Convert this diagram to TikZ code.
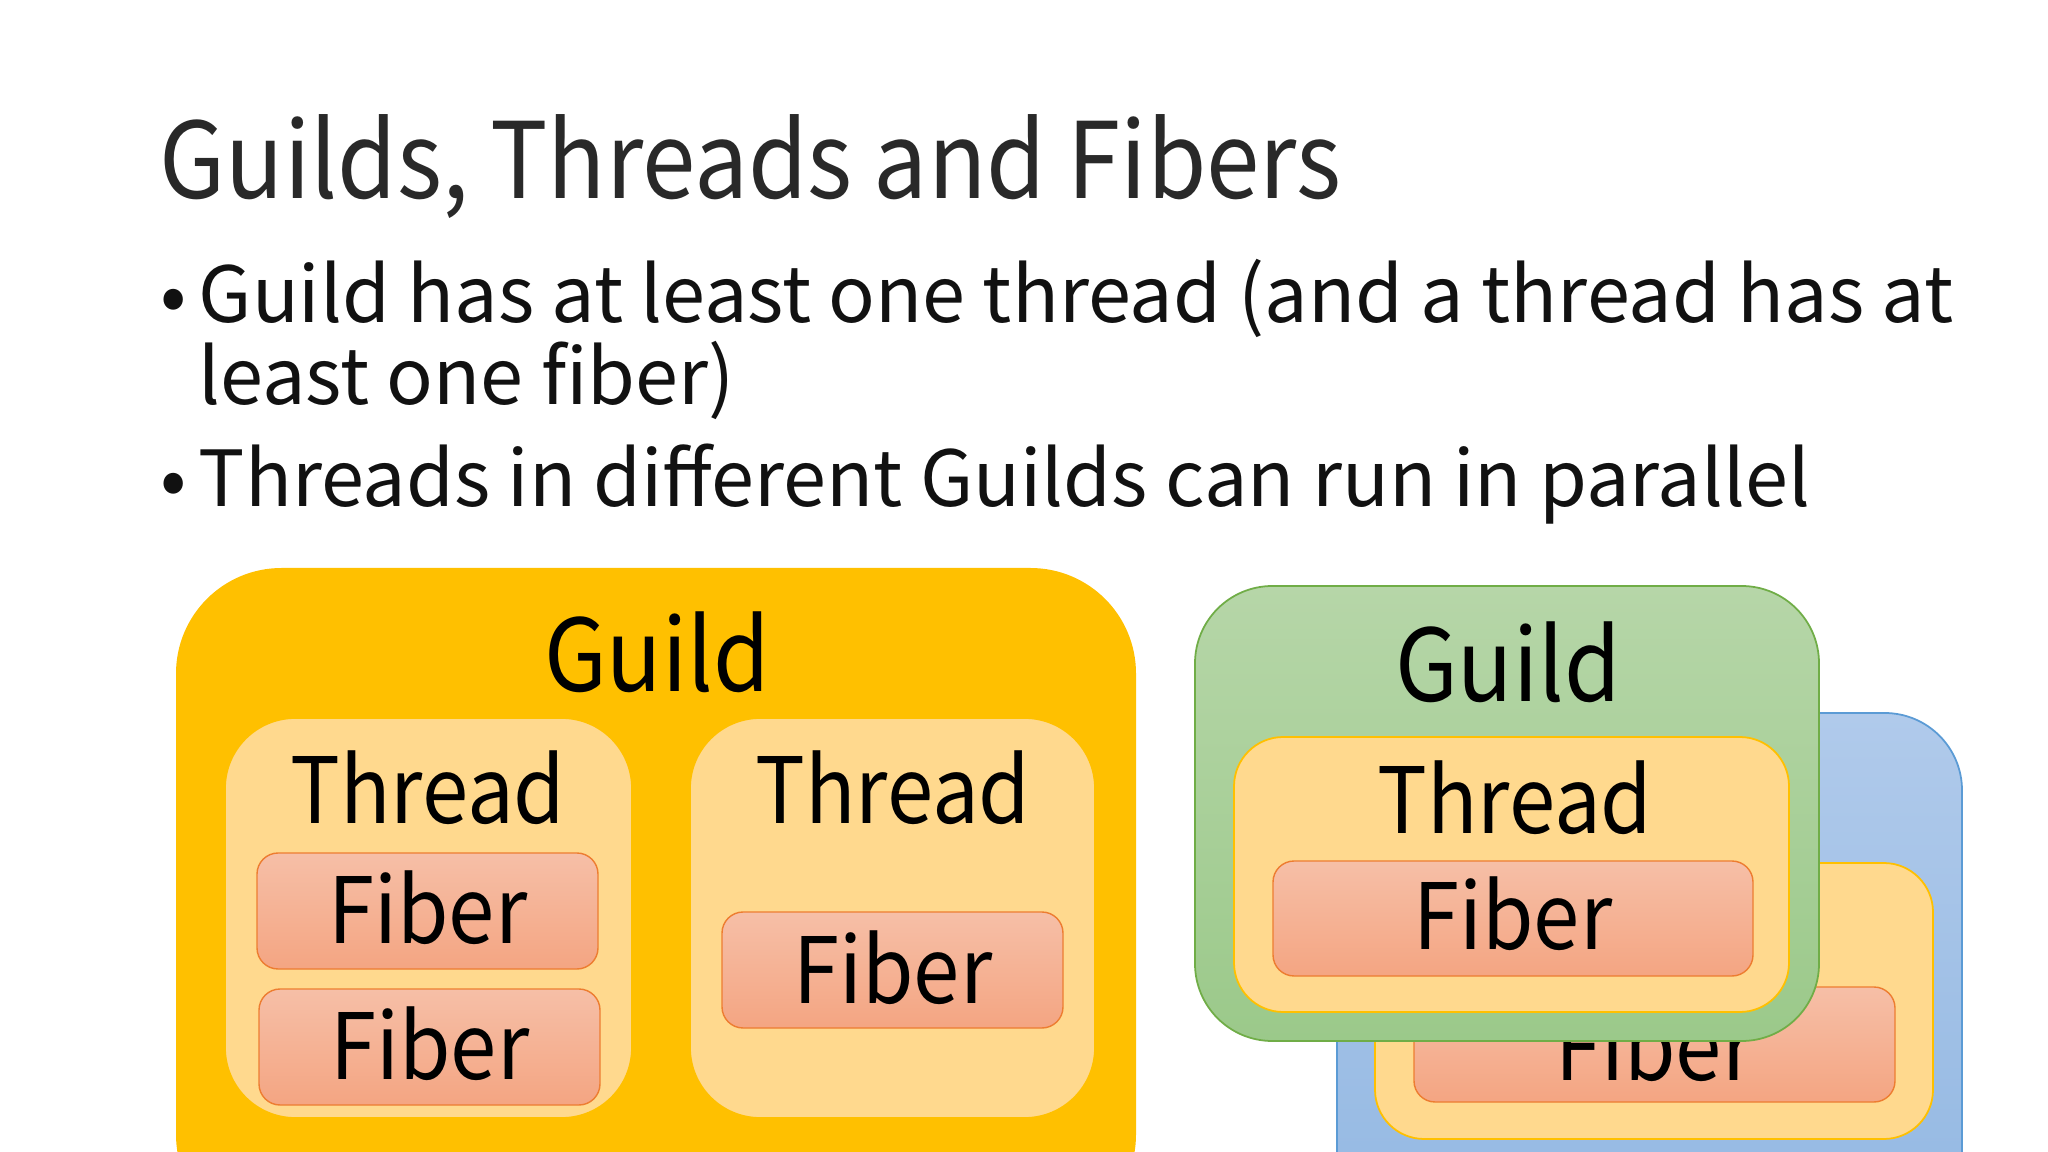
\documentclass[tikz,border=0pt]{standalone}
\usepackage{fontspec}
\newfontfamily\slidefont{Noto Sans CJK JP}
\newfontfamily\narrowfont{Noto Sans CJK JP}[FakeStretch=0.91]
\definecolor{guildorange}{HTML}{FFC000}
\definecolor{threadfill}{HTML}{FFD98E}
\definecolor{threadline}{HTML}{FFC000}
\definecolor{fibertop}{HTML}{F6BFA7}
\definecolor{fiberbottom}{HTML}{F4A582}
\definecolor{fiberline}{HTML}{ED7D31}
\definecolor{greentop}{HTML}{B6D6A8}
\definecolor{greenbottom}{HTML}{9BC98A}
\definecolor{greenline}{HTML}{70AD47}
\definecolor{bluetop}{HTML}{B0CAEB}
\definecolor{bluebottom}{HTML}{93B8E2}
\definecolor{blueline}{HTML}{5B9BD5}
\definecolor{ink}{HTML}{111111}
\tikzset{
  titletext/.style={anchor=base west, inner sep=0pt, text=ink!90, font=\narrowfont\fontsize{30}{36}\selectfont},
  bullettext/.style={anchor=base west, inner sep=0pt, text=ink, font=\slidefont\fontsize{22}{26}\selectfont},
  guildtext/.style={anchor=base, inner sep=0pt, font=\narrowfont\fontsize{28.5}{34}\selectfont},
  boxtext/.style={anchor=base, inner sep=0pt, font=\narrowfont\fontsize{26}{31}\selectfont},
  threadbox/.style={fill=threadfill, draw=threadline, line width=0.5pt},
  fiberbox/.style={top color=fibertop, bottom color=fiberbottom, draw=fiberline, line width=0.4pt, rounded corners=6pt}
}
\begin{document}
\begin{tikzpicture}[x=0.01cm, y=-0.01cm]
    \clip (0,0) rectangle (2048,1152);
    \fill[white] (0,0) rectangle (2048,1152);

    % title and bullets
    \node[titletext] (title) at (159,199) {Guilds, Threads and Fibers};
    \node[bullettext] (dot1) at (160,323) {•};
    \node[bullettext] (line1) at (198,323) {Guild has at least one thread (and a thread has at};
    \node[bullettext] (line1b) at (198,405) {least one fiber)};
    \node[bullettext] (dot2) at (160,507) {•};
    \node[bullettext] (line2) at (198,507) {Threads in different Guilds can run in parallel};

    % first guild
    \fill[guildorange, rounded corners=30pt] (176,568) rectangle (1136,1240);
    \node[guildtext] (guildA) at (657,692) {Guild};
    \draw[threadbox, rounded corners=20pt] (225,718) rectangle (632,1118);
    \node[boxtext] (threadA) at (428,823) {Thread};
    \draw[fiberbox] (257,853) rectangle (598,969);
    \node[boxtext] (fiberA) at (428,943) {Fiber};
    \draw[fiberbox] (259,989) rectangle (600,1105);
    \node[boxtext] (fiberB) at (430,1079) {Fiber};
    \draw[threadbox, rounded corners=20pt] (690,718) rectangle (1095,1118);
    \node[boxtext] (threadB) at (893,823) {Thread};
    \draw[fiberbox] (722,912) rectangle (1063,1028);
    \node[boxtext] (fiberC) at (893,1003) {Fiber};

    % guild behind
    \draw[top color=bluetop, bottom color=bluebottom, draw=blueline, line width=0.5pt, rounded corners=22pt] (1337,713) rectangle (1962,1240);
    \draw[threadbox, rounded corners=14pt] (1375,863) rectangle (1933,1139);
    \draw[fiberbox] (1414,987) rectangle (1895,1102);
    \node[boxtext] (fiberD) at (1655,1080) {Fiber};

    % guild in front
    \draw[top color=greentop, bottom color=greenbottom, draw=greenline, line width=0.5pt, rounded corners=22pt] (1195,586) rectangle (1819,1041);
    \node[guildtext] (guildB) at (1508,701) {Guild};
    \draw[threadbox, rounded corners=14pt] (1234,737) rectangle (1789,1012);
    \node[boxtext] (threadC) at (1515,833) {Thread};
    \draw[fiberbox] (1273,861) rectangle (1753,976);
    \node[boxtext] (fiberE) at (1513,949) {Fiber};
\end{tikzpicture}
\end{document}
